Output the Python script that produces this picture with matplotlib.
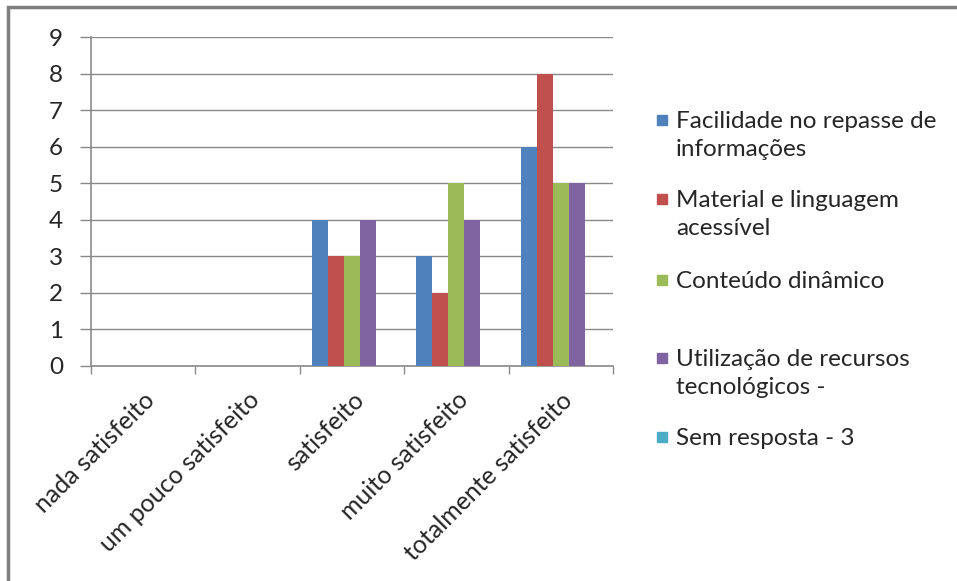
import matplotlib
matplotlib.use("Agg")
import matplotlib.pyplot as plt
import numpy as np
from matplotlib.patches import Rectangle

plt.rcParams['font.family'] = ['Lato', 'DejaVu Sans']

categories = ['nada satisfeito', 'um pouco satisfeito', 'satisfeito',
              'muito satisfeito', 'totalmente satisfeito']
series_names = ['Facilidade no repasse de\ninformações',
                'Material e linguagem\nacessível',
                'Conteúdo dinâmico',
                'Utilização de recursos\ntecnológicos -',
                'Sem resposta - 3']
facilidade = [0, 0, 4, 3, 6]
material = [0, 0, 3, 2, 8]
conteudo = [0, 0, 3, 5, 5]
utilizacao = [0, 0, 4, 4, 5]
sem_resposta = [0, 0, 0, 0, 0]
series = [facilidade, material, conteudo, utilizacao, sem_resposta]
colors = ['#4F81BD', '#C0504D', '#9BBB59', '#8064A2', '#4BACC6']
yticks = list(range(0, 10))

W, H = 957, 581
FS = 17.5
fig = plt.figure(figsize=(W / 100, H / 100), dpi=100)
ax = fig.add_axes([91 / W, 1 - 366 / H, (613 - 91) / W, (366 - 37) / H])

n = len(series)
gap = 1.5
bw = 1.0 / (n + gap)
x = np.arange(len(categories))
for i, (vals, c) in enumerate(zip(series, colors)):
    off = (i - (n - 1) / 2) * bw
    ax.bar(x + off, vals, width=bw, color=c, linewidth=0, zorder=3)

ax.set_xlim(-0.5, len(categories) - 0.5)
ax.set_ylim(0, 9)
ax.set_yticks(yticks)
ax.yaxis.grid(True, color='#8a8a8a', linewidth=1.0, zorder=0)
ax.tick_params(axis='y', length=8, width=1, color='#8a8a8a', labelsize=FS,
               labelcolor='#262626', pad=12)

ax.set_xticks(np.arange(len(categories) + 1) - 0.5, minor=True)
ax.set_xticks(x)
ax.set_xticklabels(categories, rotation=45, ha='right', rotation_mode='anchor',
                   fontsize=FS + 0.5, color='#262626')
ax.tick_params(axis='x', which='major', length=0, pad=16)
ax.tick_params(axis='x', which='minor', length=6, width=1, color='#8a8a8a')

for s in ['top', 'right']:
    ax.spines[s].set_visible(False)
for s in ['left', 'bottom']:
    ax.spines[s].set_color('#8a8a8a')
    ax.spines[s].set_linewidth(1.2)

# legend drawn by hand to keep the uneven spacing between entries
leg_y = [120, 199, 280, 358, 437]
for name, c, yy in zip(series_names, colors, leg_y):
    fig.patches.append(Rectangle((657 / W, 1 - (yy + 5) / H), 10 / W, 10 / H,
                                 transform=fig.transFigure, color=c))
    fig.text(676 / W, 1 - (yy - 9) / H, name, fontsize=FS, color='#262626',
             va='top', ha='left', linespacing=1.4)

# chart frame
fig.patches.append(Rectangle((8 / W, -0.05), 2, 1 - 7 / H + 0.05,
                             transform=fig.transFigure, fill=False,
                             edgecolor='#7f7f7f', linewidth=2.5))

fig.savefig('out.png', dpi=100, facecolor='white')
